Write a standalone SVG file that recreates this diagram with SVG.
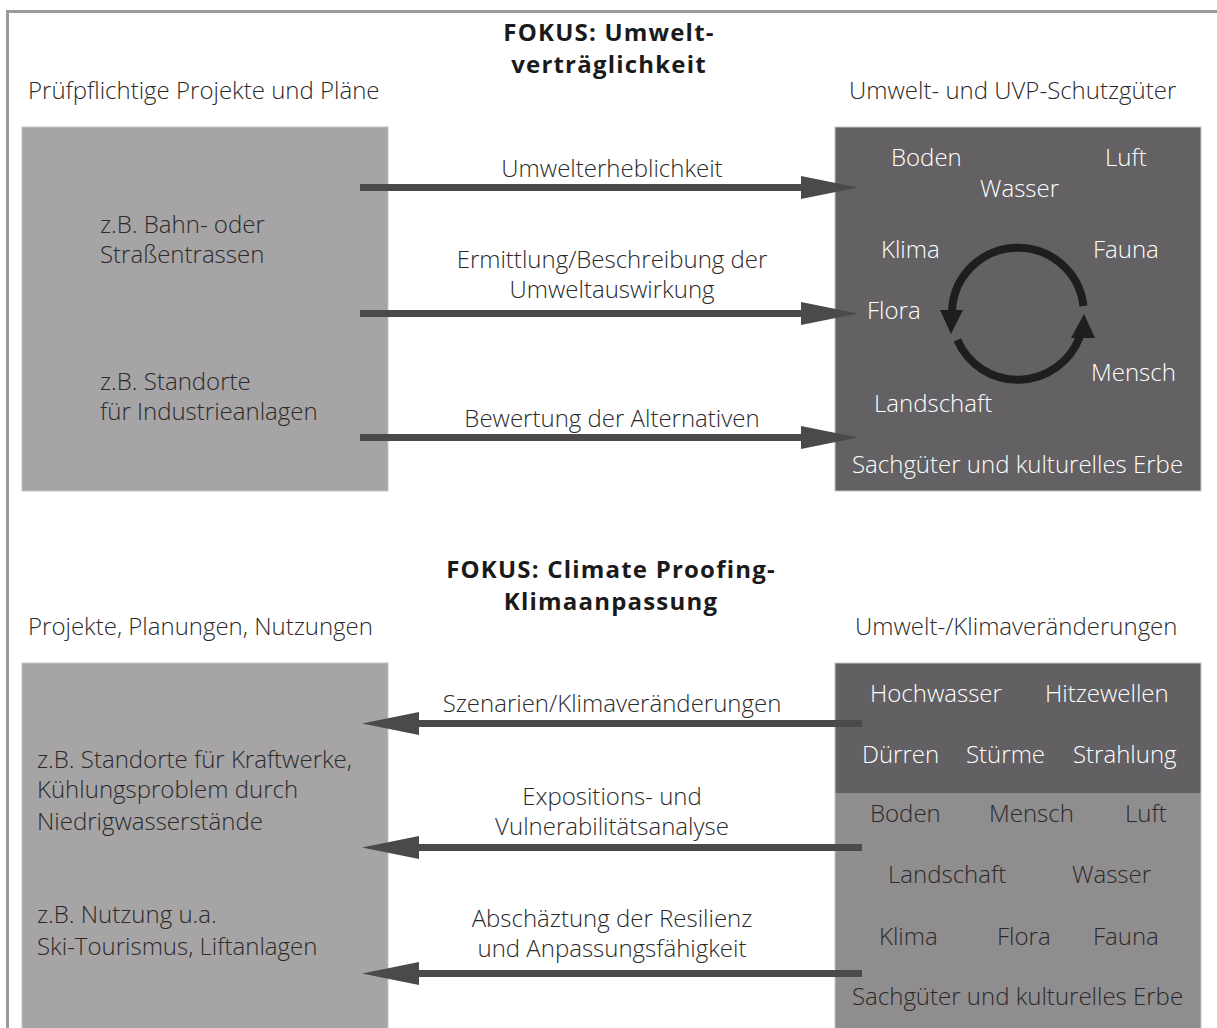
<svg xmlns="http://www.w3.org/2000/svg" width="1217" height="1028" viewBox="0 0 1217 1028">
  <style>
    text { font-family: "Open Sans", "Noto Sans", "DejaVu Sans", sans-serif; font-size: 24px; font-weight: 300; }
    .title { font-weight: bold; font-size: 24px; letter-spacing: 1.2px; fill: #1a1a1a; text-anchor: middle; }
    .head { fill: #2b2a2b; }
    .dark { fill: #2b2a2b; }
    .light { fill: #ffffff; }
    .mid { text-anchor: middle; fill: #2b2a2b; }
    .boxL { fill: #a6a4a5; stroke: #c6c6c6; stroke-width: 1; }
    .boxD { fill: #636163; stroke: #c6c6c6; stroke-width: 1; }
    .boxM { fill: #8f8d8e; }
    .conn { stroke: #4b494b; stroke-width: 7; fill: none; }
    .cycle { stroke: #1f1d1f; stroke-width: 8; fill: none; }
  </style>
  <defs>
    <marker id="arrow" markerUnits="userSpaceOnUse" markerWidth="57" markerHeight="24" refX="1" refY="12" orient="auto">
      <path d="M0,0.5 L57,12 L0,23.5 z" fill="#4b494b"/>
    </marker>
  </defs>

  <!-- frame: top and left edge -->
  <path d="M 7.5 1028 V 11.5 H 1217" fill="none" stroke="#9a9a9a" stroke-width="3"/>

  <!-- section 1: environmental impact -->
  <g id="title-uvp">
    <text class="title" x="609" y="41">FOKUS: Umwelt-</text>
    <text class="title" x="609" y="73">verträglichkeit</text>
  </g>
  <g id="head-projects">
    <text class="head" x="28" y="99">Prüfpflichtige Projekte und Pläne</text>
  </g>
  <g id="head-goods">
    <text class="head" x="849" y="99">Umwelt- und UVP-Schutzgüter</text>
  </g>

  <g id="node-projects">
    <rect class="boxL" x="22" y="127" width="366" height="364"/>
    <text class="dark" x="100" y="233">z.B. Bahn- oder</text>
    <text class="dark" x="100" y="263">Straßentrassen</text>
    <text class="dark" x="100" y="390">z.B. Standorte</text>
    <text class="dark" x="100" y="420">für Industrieanlagen</text>
  </g>

  <g id="node-goods">
    <rect class="boxD" x="835" y="127" width="366" height="364"/>
    <text class="light" x="891" y="166">Boden</text>
    <text class="light" x="1105" y="166">Luft</text>
    <text class="light" x="980" y="197">Wasser</text>
    <text class="light" x="881" y="258">Klima</text>
    <text class="light" x="1093" y="258">Fauna</text>
    <text class="light" x="867" y="319">Flora</text>
    <text class="light" x="1091" y="381">Mensch</text>
    <text class="light" x="874" y="412">Landschaft</text>
    <text class="light" x="852" y="473">Sachgüter und kulturelles Erbe</text>
    <!-- interaction cycle -->
    <path class="cycle" d="M 1083.5 306 A 66 66 0 0 0 952 311"/>
    <polygon points="940,310 963,310 951,334" fill="#1f1d1f"/>
    <path class="cycle" d="M 957.3 340 A 66 66 0 0 0 1080 336"/>
    <polygon points="1071,338 1095,338 1084,314" fill="#1f1d1f"/>
  </g>

  <g id="connectors-uvp">
    <line class="conn" x1="360" y1="187.5" x2="802" y2="187.5" marker-end="url(#arrow)"/>
    <line class="conn" x1="360" y1="313.5" x2="802" y2="313.5" marker-end="url(#arrow)"/>
    <line class="conn" x1="360" y1="437.5" x2="802" y2="437.5" marker-end="url(#arrow)"/>
    <text class="mid" x="612" y="177">Umwelterheblichkeit</text>
    <text class="mid" x="612" y="268">Ermittlung/Beschreibung der</text>
    <text class="mid" x="612" y="298">Umweltauswirkung</text>
    <text class="mid" x="612" y="427">Bewertung der Alternativen</text>
  </g>

  <!-- section 2: climate proofing -->
  <g id="title-climate">
    <text class="title" x="611" y="578">FOKUS: Climate Proofing-</text>
    <text class="title" x="611" y="610">Klimaanpassung</text>
  </g>
  <g id="head-uses">
    <text class="head" x="28" y="635">Projekte, Planungen, Nutzungen</text>
  </g>
  <g id="head-changes">
    <text class="head" x="855" y="635">Umwelt-/Klimaveränderungen</text>
  </g>

  <g id="node-uses">
    <rect class="boxL" x="22" y="663" width="366" height="370"/>
    <text class="dark" x="37" y="768">z.B. Standorte für Kraftwerke,</text>
    <text class="dark" x="37" y="798">Kühlungsproblem durch</text>
    <text class="dark" x="37" y="830">Niedrigwasserstände</text>
    <text class="dark" x="37" y="923">z.B. Nutzung u.a.</text>
    <text class="dark" x="37" y="955">Ski-Tourismus, Liftanlagen</text>
  </g>

  <g id="node-changes">
    <rect class="boxM" x="835" y="663" width="366" height="370"/>
    <rect fill="#626062" x="835" y="663" width="366" height="130"/>
    <rect x="835" y="663" width="366" height="370" fill="none" stroke="#c6c6c6" stroke-width="1"/>
    <text class="light" x="870" y="702">Hochwasser</text>
    <text class="light" x="1045" y="702">Hitzewellen</text>
    <text class="light" x="862" y="763">Dürren</text>
    <text class="light" x="966" y="763">Stürme</text>
    <text class="light" x="1073" y="763">Strahlung</text>
    <text class="dark" x="870" y="822">Boden</text>
    <text class="dark" x="989" y="822">Mensch</text>
    <text class="dark" x="1125" y="822">Luft</text>
    <text class="dark" x="888" y="883">Landschaft</text>
    <text class="dark" x="1072" y="883">Wasser</text>
    <text class="dark" x="879" y="945">Klima</text>
    <text class="dark" x="997" y="945">Flora</text>
    <text class="dark" x="1093" y="945">Fauna</text>
    <text class="dark" x="852" y="1005">Sachgüter und kulturelles Erbe</text>
  </g>

  <g id="connectors-climate">
    <line class="conn" x1="862" y1="723.5" x2="418" y2="723.5" marker-end="url(#arrow)"/>
    <line class="conn" x1="862" y1="847.5" x2="418" y2="847.5" marker-end="url(#arrow)"/>
    <line class="conn" x1="862" y1="973.5" x2="418" y2="973.5" marker-end="url(#arrow)"/>
    <text class="mid" x="612" y="712">Szenarien/Klimaveränderungen</text>
    <text class="mid" x="612" y="805">Expositions- und</text>
    <text class="mid" x="612" y="835">Vulnerabilitätsanalyse</text>
    <text class="mid" x="612" y="927">Abschäztung der Resilienz</text>
    <text class="mid" x="612" y="957">und Anpassungsfähigkeit</text>
  </g>
</svg>
